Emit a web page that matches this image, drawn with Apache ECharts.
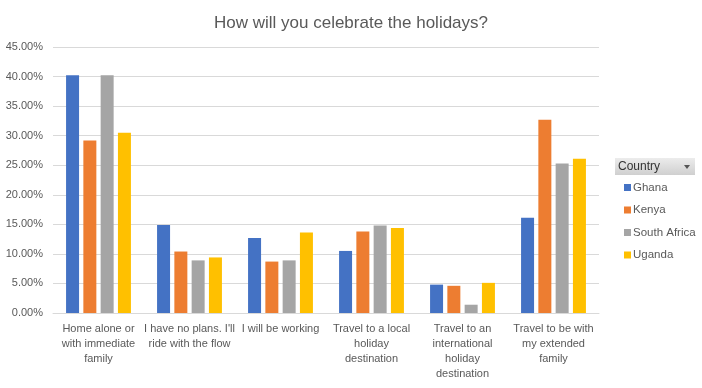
<!DOCTYPE html>
<html><head><meta charset="utf-8">
<script src="https://cdn.jsdelivr.net/npm/echarts@6/dist/echarts.min.js"></script>
<style>html,body{margin:0;padding:0;background:#fff}#c{width:702px;height:388px}</style>
</head><body><div id="c"></div>
<script>
const categories = [
  "Home alone or\nwith immediate\nfamily",
  "I have no plans. I'll\nride with the flow",
  "I will be working",
  "Travel to a local\nholiday\ndestination",
  "Travel to an\ninternational\nholiday\ndestination",
  "Travel to be with\nmy extended\nfamily"
];
const seriesNames = ["Ghana", "Kenya", "South Africa", "Uganda"];
const ghana = [40.2, 14.9, 12.7, 10.5, 4.8, 16.1];
const kenya = [29.2, 10.4, 8.7, 13.8, 4.6, 32.7];
const southAfrica = [40.2, 8.9, 8.9, 14.8, 1.4, 25.3];
const uganda = [30.5, 9.4, 13.6, 14.4, 5.1, 26.1];
const colors = ["#4472C4", "#ED7D31", "#A5A5A5", "#FFC000"];
const values = [ghana, kenya, southAfrica, uganda];

const font = "'Liberation Sans', Arial, sans-serif";
const chart = echarts.init(document.getElementById('c'));
chart.setOption({
  animation: false,
  title: {
    text: "How will you celebrate the holidays?",
    left: 'center', top: 10,
    textStyle: { fontFamily: font, fontSize: 17, fontWeight: 'normal', color: '#595959' }
  },
  grid: { left: 53, right: 103, top: 47, bottom: 75 },
  legend: {
    orient: 'vertical', left: 619, top: 176,
    itemWidth: 7, itemHeight: 7, itemGap: 9.5,
    icon: 'rect',
    data: seriesNames,
    textStyle: { fontFamily: font, fontSize: 11.5, color: '#595959', lineHeight: 13, padding: [0, 0, 0, -3] }
  },
  graphic: [
    { type: 'rect', shape: { x: 615, y: 158, width: 80, height: 17 },
      style: { fill: new echarts.graphic.LinearGradient(0, 0, 0, 1, [{offset: 0, color: '#ececec'}, {offset: 1, color: '#cfcfcf'}]) } },
    { type: 'text', style: { x: 618, y: 166.5, text: 'Country', fontFamily: font, fontSize: 12, fill: '#333', verticalAlign: 'middle' } },
    { type: 'polygon', shape: { points: [[684, 165], [690, 165], [687, 169]] }, style: { fill: '#555' } }
  ],
  xAxis: {
    type: 'category', data: categories,
    axisTick: { show: false },
    axisLine: { lineStyle: { color: '#d9d9d9' } },
    axisLabel: { interval: 0, fontFamily: font, fontSize: 11, color: '#595959', lineHeight: 15, margin: 8 }
  },
  yAxis: {
    type: 'value', min: 0, max: 45, interval: 5,
    axisLine: { show: false }, axisTick: { show: false },
    splitLine: { lineStyle: { color: '#d9d9d9' } },
    axisLabel: { fontFamily: font, fontSize: 11, color: '#595959', margin: 10,
      formatter: v => v.toFixed(2) + '%' }
  },
  series: seriesNames.map((n, i) => ({
    name: n, type: 'bar', data: values[i], barWidth: 13, barGap: '33%',
    itemStyle: { color: colors[i] }
  }))
});
</script></body></html>
